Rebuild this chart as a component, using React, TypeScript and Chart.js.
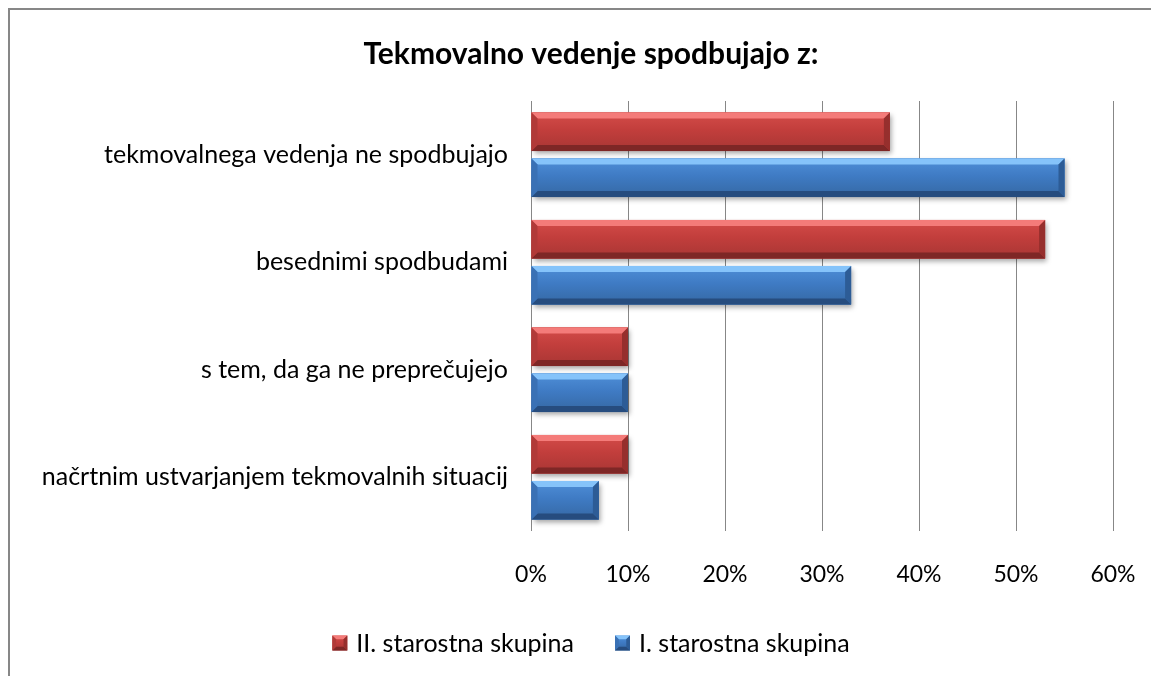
import React, { useEffect, useRef } from "react";
import { Chart, registerables } from "chart.js";

Chart.register(...registerables);

const TITLE = "Tekmovalno vedenje spodbujajo z:";
const CATEGORIES = [
  "tekmovalnega vedenja ne spodbujajo",
  "besednimi spodbudami",
  "s tem, da ga ne preprečujejo",
  "načrtnim ustvarjanjem tekmovalnih situacij",
];
const SERIES_NAMES = ["II. starostna skupina", "I. starostna skupina"];
const SERIES_II = [37, 53, 10, 10];
const SERIES_I = [55, 33, 10, 7];
const X_MAX = 60;
const X_STEP = 10;

const FONT = "Lato, 'Open Sans', sans-serif";

const PALETTES = [
  { base: "#C0403D", top: "#F47B79", g0: "#D44C49", g1: "#C23E3C", g2: "#A83634", bottom: "#7E2726", side: "#962F2D", leftSide: "#B13A38" },
  { base: "#3F7BC4", top: "#85C3FA", g0: "#4F8FD8", g1: "#3F7BC4", g2: "#3568A3", bottom: "#264C7E", side: "#2D5C96", leftSide: "#3A71B5" },
];

// horizontal centre of title and legend (canvas px)
const HEAD_CENTER_X = 581;

function drawBevelRect(ctx: any, left: number, top: number, w: number, h: number, pal: any, bevel: number) {
  const right = left + w;
  const bottom = top + h;
  const b = Math.min(bevel, h / 4, w / 3);
  const g = ctx.createLinearGradient(0, top, 0, bottom);
  g.addColorStop(0, pal.g0);
  g.addColorStop(0.45, pal.g1);
  g.addColorStop(1, pal.g2);
  ctx.fillStyle = g;
  ctx.fillRect(left, top, w, h);
  const poly = (pts: number[][], color: string) => {
    ctx.beginPath();
    ctx.moveTo(pts[0][0], pts[0][1]);
    for (let i = 1; i < pts.length; i++) ctx.lineTo(pts[i][0], pts[i][1]);
    ctx.closePath();
    ctx.fillStyle = color;
    ctx.fill();
  };
  poly([[left, top], [right, top], [right - b, top + b], [left + b, top + b]], pal.top);
  poly([[left, bottom], [right, bottom], [right - b, bottom - b], [left + b, bottom - b]], pal.bottom);
  poly([[right, top], [right, bottom], [right - b, bottom - b], [right - b, top + b]], pal.side);
  poly([[left, top], [left, bottom], [left + b, bottom - b], [left + b, top + b]], pal.leftSide);
}

const bevelPlugin = {
  id: "bevel",
  beforeDatasetsDraw(chart: any) {
    const ctx = chart.ctx;
    ctx.save();
    ctx.shadowColor = "rgba(0,0,0,0.35)";
    ctx.shadowBlur = 5;
    ctx.shadowOffsetX = 2;
    ctx.shadowOffsetY = 3;
  },
  afterDatasetsDraw(chart: any) {
    const ctx = chart.ctx;
    ctx.restore();
    chart.data.datasets.forEach((_ds: any, di: number) => {
      const meta = chart.getDatasetMeta(di);
      const pal = PALETTES[di];
      meta.data.forEach((el: any) => {
        const { x, y, base, height } = el.getProps(["x", "y", "base", "height"], true);
        const left = Math.min(x, base);
        const w = Math.abs(x - base);
        ctx.save();
        drawBevelRect(ctx, left, y - height / 2, w, height, pal, 6);
        ctx.restore();
      });
    });
  },
};

const titlePlugin = {
  id: "customTitle",
  afterDraw(chart: any) {
    const ctx = chart.ctx;
    ctx.save();
    ctx.font = `bold 30px ${FONT}`;
    ctx.fillStyle = "#000";
    ctx.textAlign = "center";
    ctx.textBaseline = "middle";
    ctx.fillText(TITLE, HEAD_CENTER_X, 44);
    ctx.restore();
  },
};

// custom legend, built from the chart's datasets
const LEGEND_FONT_SIZE = 25;
const legendPlugin = {
  id: "customLegend",
  afterDraw(chart: any) {
    const ctx = chart.ctx;
    const box = 15;
    const textGap = 9;
    const itemGap = 41;
    const centerY = 633;
    ctx.save();
    ctx.font = `${LEGEND_FONT_SIZE}px ${FONT}`;
    const items = chart.data.datasets.map((ds: any, i: number) => ({
      text: ds.label,
      pal: PALETTES[i],
      w: box + textGap + ctx.measureText(ds.label).width,
    }));
    const total = items.reduce((s: number, it: any) => s + it.w, 0) + itemGap * (items.length - 1);
    let x = HEAD_CENTER_X - total / 2;
    items.forEach((it: any) => {
      drawBevelRect(ctx, x, centerY - box / 2, box, box, it.pal, 4);
      ctx.fillStyle = "#000";
      ctx.textBaseline = "middle";
      ctx.textAlign = "left";
      ctx.fillText(it.text, x + box + textGap, centerY + 1);
      x += it.w + itemGap;
    });
    ctx.restore();
  },
};

export default function App() {
  const ref = useRef<HTMLCanvasElement | null>(null);
  useEffect(() => {
    if (!ref.current) return;
    const chart = new Chart(ref.current, {
      type: "bar",
      data: {
        labels: CATEGORIES,
        datasets: [
          { label: SERIES_NAMES[0], data: SERIES_II, backgroundColor: PALETTES[0].base, borderWidth: 0 },
          { label: SERIES_NAMES[1], data: SERIES_I, backgroundColor: PALETTES[1].base, borderWidth: 0 },
        ],
      },
      options: {
        indexAxis: "y",
        animation: false,
        responsive: false,
        maintainAspectRatio: false,
        datasets: { bar: { categoryPercentage: 0.856, barPercentage: 0.84 } },
        layout: { padding: { left: 0, right: 38, top: 91, bottom: 0 } },
        plugins: {
          title: { display: false },
          legend: { display: false },
          tooltip: { enabled: false },
        },
        scales: {
          x: {
            min: 0,
            max: X_MAX,
            ticks: {
              stepSize: X_STEP,
              color: "#000",
              padding: 30,
              maxRotation: 0,
              font: { family: FONT, size: 23 },
              callback: (v: any) => v + "%",
            },
            grid: { color: "#878787", lineWidth: 1, drawTicks: false },
            border: { display: false },
            afterFit: (scale: any) => {
              scale.height = 145;
              scale.paddingLeft = 0;
              scale.paddingRight = 0;
            },
          },
          y: {
            ticks: { color: "#000", padding: 23, font: { family: FONT, size: 25 } },
            grid: { display: false, drawTicks: false },
            border: { display: false },
            afterFit: (scale: any) => {
              scale.width = 521;
              scale.paddingTop = 0;
              scale.paddingBottom = 0;
            },
          },
        },
      },
      plugins: [bevelPlugin, titlePlugin, legendPlugin],
    });
    return () => chart.destroy();
  }, []);
  return (
    <div
      style={{
        position: "fixed",
        left: 8,
        top: 8,
        width: 1143,
        height: 668,
        boxSizing: "border-box",
        borderTop: "2px solid #878787",
        borderLeft: "2px solid #878787",
        background: "#fff",
        overflow: "hidden",
      }}
    >
      <canvas ref={ref} width={1141} height={666} style={{ display: "block", width: 1141, height: 666 }} />
    </div>
  );
}
